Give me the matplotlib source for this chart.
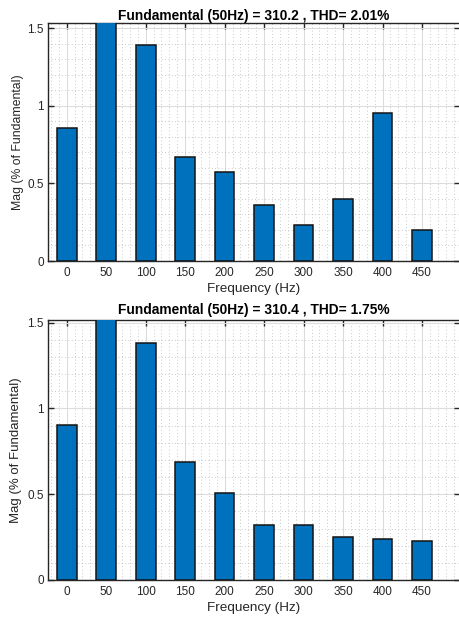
import numpy as np
import matplotlib.pyplot as plt
from matplotlib.ticker import MultipleLocator

# Espectro armónico (magnitud en % de la fundamental)
freqs = [0, 50, 100, 150, 200, 250, 300, 350, 400, 450]
mag_caso1 = [0.856, 100, 1.394, 0.673, 0.572, 0.359, 0.230, 0.398, 0.953, 0.202]
mag_caso2 = [0.904, 100, 1.379, 0.688, 0.506, 0.323, 0.323, 0.251, 0.236, 0.226]
titulos = ['Fundamental (50Hz) = 310.2 , THD= 2.01%',
           'Fundamental (50Hz) = 310.4 , THD= 1.75%']
ytops = [1.533, 1.515]

plt.rcParams['font.family'] = ['Liberation Sans', 'DejaVu Sans']

fig = plt.figure(figsize=(4.59, 6.19), dpi=100)
W, H = 459, 619
# posiciones de los ejes en pixeles (izq, arriba, der, abajo)
cajas = [(48, 23, 460, 261), (48, 320, 460, 580)]
ylab_size = [8.8, 9.5]
ylab_pad = [2.5, 4.0]
tit_pad = [2.0, 4.0]

for i in range(2):
    l, t, r, b = cajas[i]
    ax = fig.add_axes([l / W, 1 - b / H, (r - l) / W, (b - t) / H])
    mags = [mag_caso1, mag_caso2][i]
    ax.bar(freqs, mags, width=25, color='#0072BD', edgecolor='#141414',
           linewidth=1.1, zorder=3)
    ax.set_xlim(-23.6, 498)
    ax.set_ylim(0, ytops[i])
    ax.set_xticks(freqs)
    ax.set_yticks([0, 0.5, 1, 1.5])
    ax.set_yticklabels(['0', '0.5', '1', '1.5'])
    ax.xaxis.set_minor_locator(MultipleLocator(10))
    ax.yaxis.set_minor_locator(MultipleLocator(0.1))
    ax.grid(which='major', color='#dcdcdc', linewidth=0.8, zorder=0)
    ax.grid(which='minor', color='#b8b8b8', linestyle=(0, (1, 3)),
            linewidth=0.6, zorder=0)
    ax.set_axisbelow(True)
    ax.tick_params(which='major', direction='in', length=4, width=1,
                   top=True, right=True, labelsize=8.5, colors='#262626')
    ax.tick_params(axis='x', pad=4.5)
    ax.tick_params(axis='y', pad=3)
    ax.tick_params(which='minor', length=0)
    for s in ax.spines.values():
        s.set_color('#262626')
        s.set_linewidth(1.0)
    ax.set_title(titulos[i], fontsize=9.9, fontweight='bold', pad=tit_pad[i])
    ax.set_xlabel('Frequency (Hz)', fontsize=9.7, color='#262626', labelpad=3)
    ax.set_ylabel('Mag (% of Fundamental)', fontsize=ylab_size[i],
                  color='#262626', labelpad=ylab_pad[i])

fig.savefig('out.png', dpi=100)
